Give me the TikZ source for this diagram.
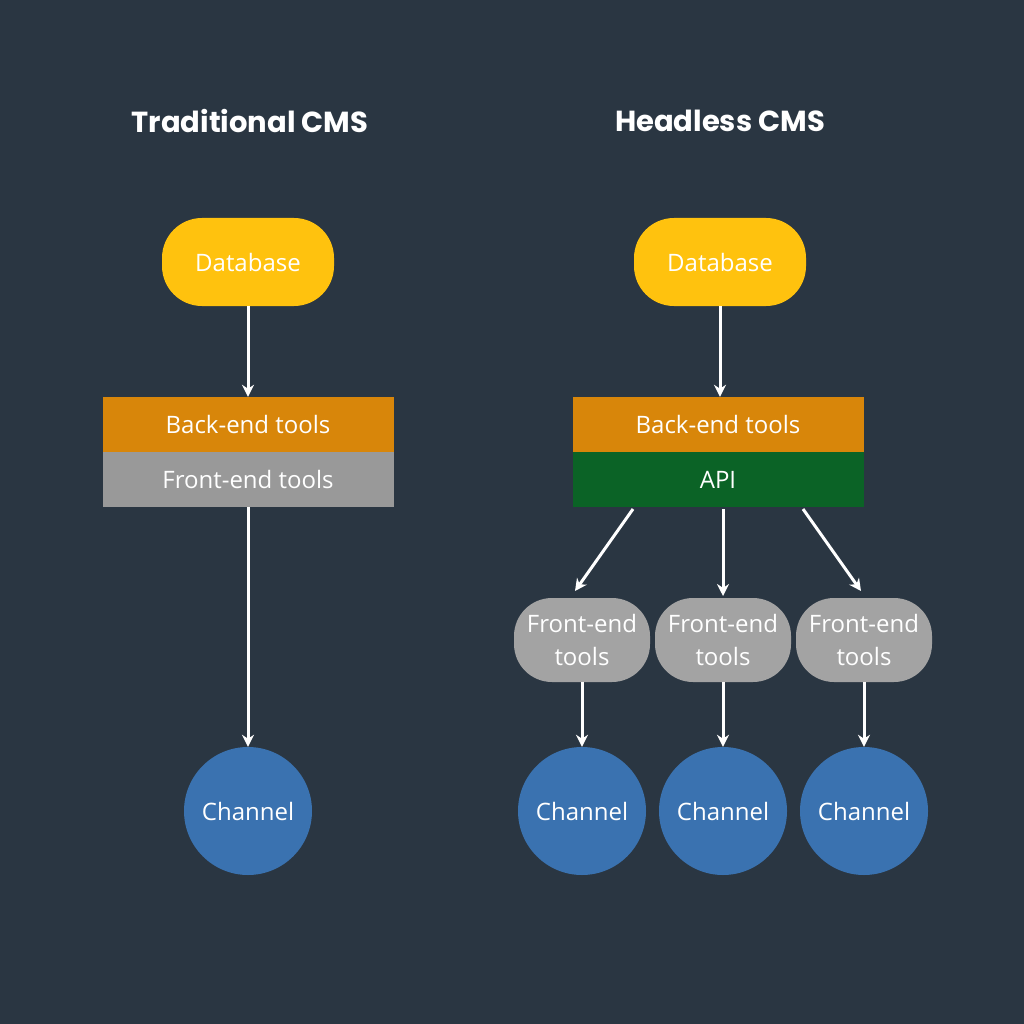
\documentclass[tikz,border=0pt]{standalone}
\usepackage{fontspec}
\setmainfont{Open Sans}
\newfontfamily\titlefont{Poppins}
\usetikzlibrary{shapes.geometric,arrows.meta}
\definecolor{bg}{HTML}{2A3642}
\definecolor{dbc}{HTML}{FFC20E}
\definecolor{bec}{HTML}{D8860A}
\definecolor{fec}{HTML}{999999}
\definecolor{apic}{HTML}{0B6326}
\definecolor{chc}{HTML}{3A72B0}
\definecolor{fe2}{HTML}{A3A3A3}
\begin{document}
\begin{tikzpicture}[x=1pt,y=-1pt,
  txt/.style={text=white,font=\fontsize{24}{28}\selectfont},
  db/.style={txt,fill=dbc,rounded corners=40pt,minimum width=172pt,minimum height=88pt,inner sep=0pt},
  bar/.style={txt,minimum width=291pt,minimum height=55pt,inner sep=0pt},
  fe/.style={txt,fill=fe2,rounded corners=38pt,minimum width=136pt,minimum height=84pt,inner sep=0pt,align=center,font=\fontsize{24}{33}\selectfont},
  ch/.style={txt,circle,fill=chc,minimum size=128pt,inner sep=0pt},
  title/.style={text=white,font=\titlefont\bfseries\fontsize{29}{34}\selectfont},
  arr/.style={draw=white,line width=3pt,-{Stealth[length=12pt,width=12pt]}}]
\fill[bg] (0,0) rectangle (1024,1024);
\useasboundingbox (0,0) rectangle (1024,1024);
\node[title] (t1) at (250,121) {Traditional CMS};
\node[title] (t2) at (720,121) {Headless CMS};
\node[db] (d1) at (248,262) {Database};
\node[bar,fill=bec] (b1) at (248,424.5) {Back-end tools};
\node[bar,fill=fec] (f1) at (248,479.5) {Front-end tools};
\node[ch] (c1) at (248,811) {Channel};
\draw[arr] (d1) -- (b1);
\draw[arr] (f1) -- (c1);
\node[db] (d2) at (720,262) {Database};
\node[bar,fill=bec] (b2) at (718,424.5) {Back-end tools};
\node[bar,fill=apic] (a2) at (718,479.5) {API};
\draw[arr] (d2.south) -- (b2.north -| d2.south);
\foreach \i/\x in {1/582,2/723,3/864}{
  \node[fe] (fe\i) at (\x,640) {Front-end\\tools};
  \node[ch] (ch\i) at (\x,811) {Channel};
  \draw[arr] (fe\i) -- (ch\i);
}
\coordinate (s1) at (633,509); \coordinate (s2) at (723,509); \coordinate (s3) at (803,509);
\coordinate (e1) at (575,591); \coordinate (e2) at (723,596); \coordinate (e3) at (861,591);
\draw[arr] (s1) -- (e1);
\draw[arr] (s2) -- (e2);
\draw[arr] (s3) -- (e3);
\end{tikzpicture}
\end{document}
